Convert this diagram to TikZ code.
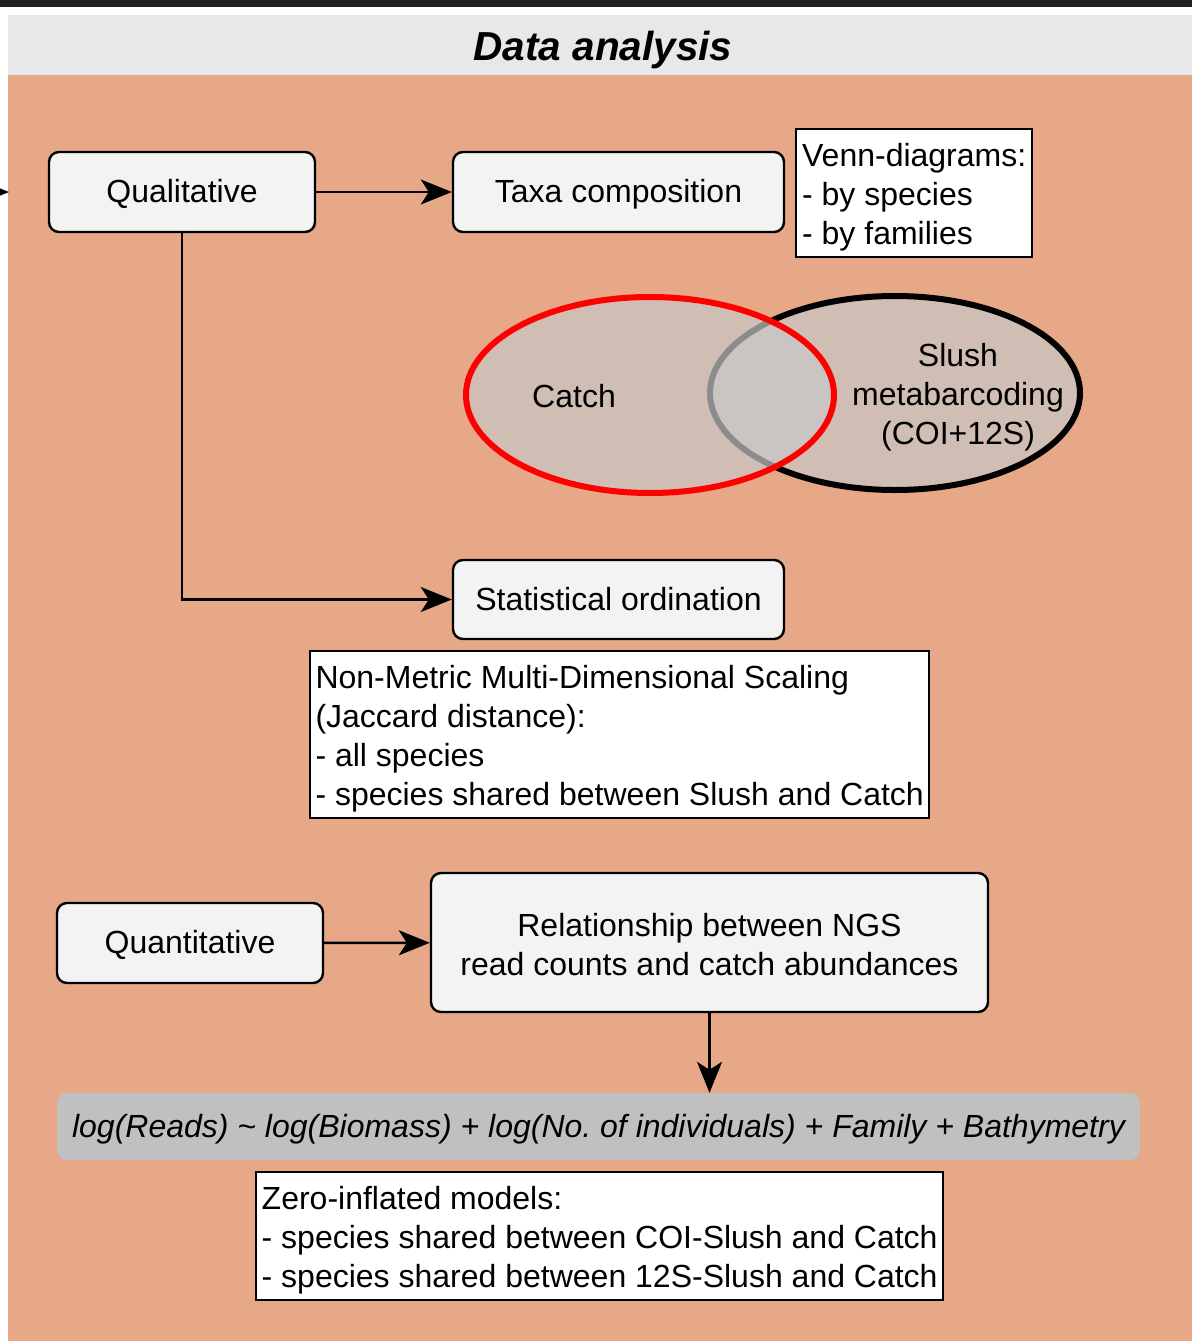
\documentclass[tikz,border=0pt]{standalone}
\usepackage{fontspec}
\setmainfont{Liberation Sans}
\usetikzlibrary{arrows.meta,positioning}
\definecolor{panel}{HTML}{E6A886}
\definecolor{header}{HTML}{E8E8E8}
\definecolor{boxfill}{HTML}{F3F3F3}
\definecolor{formula}{HTML}{C0C0C0}
\definecolor{venn}{HTML}{C8C8C8}
\newcommand{\firstline}[1]{\rule{0pt}{#1}}
\tikzset{
  base/.style={font=\fontsize{32}{39}\selectfont, text=black},
  oneline/.style={base, execute at begin node={\rule[-8pt]{0pt}{37pt}}},
  roundbox/.style={draw=black, line width=2.4pt, rounded corners=10pt, fill=boxfill, align=center, inner sep=0pt},
  notebox/.style={base, draw=black, line width=2.4pt, fill=white, align=left, inner xsep=5pt, inner ysep=0pt, anchor=north west},
  link/.style={line width=2.4pt, -{Stealth[length=31pt,width=25pt,inset=8pt]}},
}
\begin{document}
\begin{tikzpicture}[x=1pt,y=-1pt]
\useasboundingbox (0,0) rectangle (1192,1341);
% page background, top rule, header strip and panel
\fill[white] (0,0) rectangle (1192,1341);
\fill[black!88] (0,0) rectangle (1192,7);
\fill[header] (8,15) rectangle (1192,75);
\fill[panel] (8,75) rectangle (1192,1341);
\node[text=black, font=\fontsize{40.5}{45}\selectfont\bfseries\itshape] (title) at (603,50) {Data analysis};

% incoming arrow from the previous panel
\coordinate (inL) at (-40,192);
\coordinate (inR) at (9,192);
\draw[link] (inL) -- (inR);

% qualitative branch
\node[oneline, roundbox, minimum width=266pt, minimum height=80pt] (qual) at (182,192) {Qualitative};
\node[oneline, roundbox, minimum width=331pt, minimum height=80pt] (taxa) at (618.5,192) {Taxa composition};
\node[notebox, minimum width=236pt, minimum height=128pt] (vennnote) at (795,128) {\firstline{31pt}Venn-diagrams:\\- by species\\- by families};

% Venn diagram
\fill[venn, opacity=0.7] (895,393) ellipse [x radius=185, y radius=97];
\draw[black, line width=6pt] (895,393) ellipse [x radius=185, y radius=97];
\fill[venn, opacity=0.7] (650,395) ellipse [x radius=184, y radius=98];
\draw[red, line width=6pt] (650,395) ellipse [x radius=184, y radius=98];
\node[oneline] (catch) at (574,397) {Catch};
\node[base, align=center] (slush) at (958,395) {\firstline{27pt}Slush\\metabarcoding\\(COI+12S)};

\node[oneline, roundbox, minimum width=331pt, minimum height=79pt] (ord) at (618.5,599.5) {Statistical ordination};
\node[notebox, minimum width=619pt, minimum height=167pt] (nmds) at (309,650) {\firstline{31pt}Non-Metric Multi-Dimensional Scaling\\(Jaccard distance):\\- all species\\- species shared between Slush and Catch};

\draw[link] (qual) -- (taxa);
\draw[link] (qual.south) |- (ord.west);

% quantitative branch
\node[oneline, roundbox, minimum width=266pt, minimum height=80pt] (quant) at (190,943) {Quantitative};
\node[base, roundbox, minimum width=557pt, minimum height=139pt] (rel) at (709.5,942.5) {\firstline{27pt}Relationship between NGS\\read counts and catch abundances};
\node[oneline, fill=formula, rounded corners=10pt, minimum width=1083pt, minimum height=67pt, inner sep=0pt, font=\fontsize{32}{39}\selectfont\itshape] (model) at (598.5,1126.5) {log(Reads) {\textasciitilde} log(Biomass) + log(No.\ of individuals) + Family + Bathymetry};
\node[notebox, minimum width=687pt, minimum height=128pt] (zero) at (255,1171) {\firstline{31pt}Zero-inflated models:\\- species shared between COI-Slush and Catch\\- species shared between 12S-Slush and Catch};

\draw[link] (quant) -- (rel);
\draw[link] (rel.south) -- (rel.south |- model.north);
\end{tikzpicture}
\end{document}
